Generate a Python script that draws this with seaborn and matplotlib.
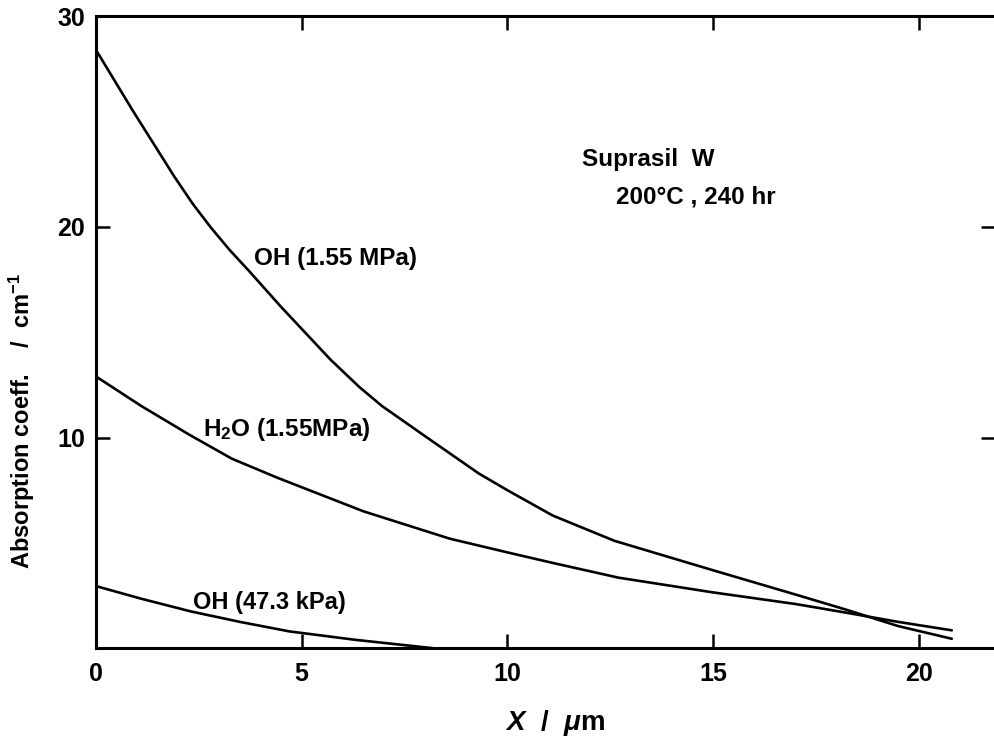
import numpy as np
import pandas as pd
import matplotlib
matplotlib.use('Agg')
import matplotlib.pyplot as plt
import seaborn as sns

# curves (x in um, absorption coeff. in cm^-1)
oh155_x = [0.0, 0.9, 1.9, 2.35, 2.8, 3.25, 3.7, 4.5, 5.7, 6.4, 6.95, 7.9, 8.6, 9.3, 10.0, 11.1, 12.6, 15.0, 17.0, 18.2, 19.5, 20.8]
oh155_y = [28.4, 25.5, 22.4, 21.1, 19.95, 18.9, 17.95, 16.2, 13.7, 12.4, 11.5, 10.2, 9.25, 8.3, 7.5, 6.3, 5.1, 3.7, 2.55, 1.85, 1.05, 0.45]

h2o_x = [0.0, 1.1, 2.3, 3.3, 4.4, 6.5, 8.6, 10.0, 11.1, 12.7, 15.0, 17.0, 18.2, 19.5, 20.8]
h2o_y = [12.9, 11.5, 10.1, 9.0, 8.1, 6.5, 5.2, 4.55, 4.05, 3.35, 2.65, 2.1, 1.7, 1.25, 0.85]

oh47_x = [0.0, 1.1, 2.3, 3.5, 4.7, 6.3, 8.2]
oh47_y = [2.95, 2.35, 1.75, 1.25, 0.8, 0.4, 0.0]

x_ticks = [0, 5, 10, 15, 20]
y_ticks = [10, 20, 30]

sns.set_style("ticks")
plt.rcParams['font.family'] = ['Liberation Sans', 'DejaVu Sans']
plt.rcParams['mathtext.fontset'] = 'custom'
plt.rcParams['mathtext.rm'] = 'Liberation Sans:bold'
plt.rcParams['mathtext.it'] = 'Liberation Sans:italic:bold'
for key in ['text.color', 'axes.labelcolor', 'xtick.color', 'ytick.color', 'axes.edgecolor']:
    plt.rcParams[key] = 'black'

fig = plt.figure(figsize=(9.95, 7.4), dpi=100)
ax = fig.add_axes([0.0965, 0.124, 0.9035, 0.854])

curves = [(oh155_x, oh155_y), (h2o_x, h2o_y), (oh47_x, oh47_y)]
for xs, ys in curves:
    df = pd.DataFrame({'x': xs, 'y': ys})
    sns.lineplot(data=df, x='x', y='y', ax=ax, color='black', linewidth=1.9)

ax.set_xlim(0, 21.85)
ax.set_ylim(0, 30)
ax.set_xticks(x_ticks)
ax.set_yticks(y_ticks)
ax.set_xticklabels([str(t) for t in x_ticks], fontsize=18, fontweight='bold')
ax.set_yticklabels([str(t) for t in y_ticks], fontsize=18, fontweight='bold')
ax.tick_params(axis='both', direction='in', length=10, width=1.8, pad=8,
               top=True, right=True, color='black', labelcolor='black')
ax.tick_params(axis='x', pad=10)

for side in ['left', 'bottom', 'top']:
    ax.spines[side].set_linewidth(2.2)
    ax.spines[side].set_color('black')
ax.spines['right'].set_visible(False)

ax.set_xlabel(r'$X$  /  $\mu$m', fontsize=20, fontweight='bold')
ax.xaxis.set_label_coords(0.51, -0.094)
ax.set_ylabel(r'Absorption coeff.    /  cm$^{-1}$', fontsize=17, fontweight='bold')
ax.yaxis.set_label_coords(-0.066, 0.36)

ax.text(3.85, 18.5, 'OH (1.55 MPa)', fontsize=17.5, fontweight='bold', va='center')
ax.text(2.6, 10.4, r'H$_2$O (1.55MPa)', fontsize=17.5, fontweight='bold', va='center')
ax.text(2.35, 2.15, 'OH (47.3 kPa)', fontsize=17, fontweight='bold', va='center')
ax.text(11.8, 23.2, 'Suprasil  W', fontsize=17.5, fontweight='bold', va='center')
ax.text(12.65, 21.4, '200°C , 240 hr', fontsize=17.5, fontweight='bold', va='center')

fig.savefig('out.png', dpi=100)
